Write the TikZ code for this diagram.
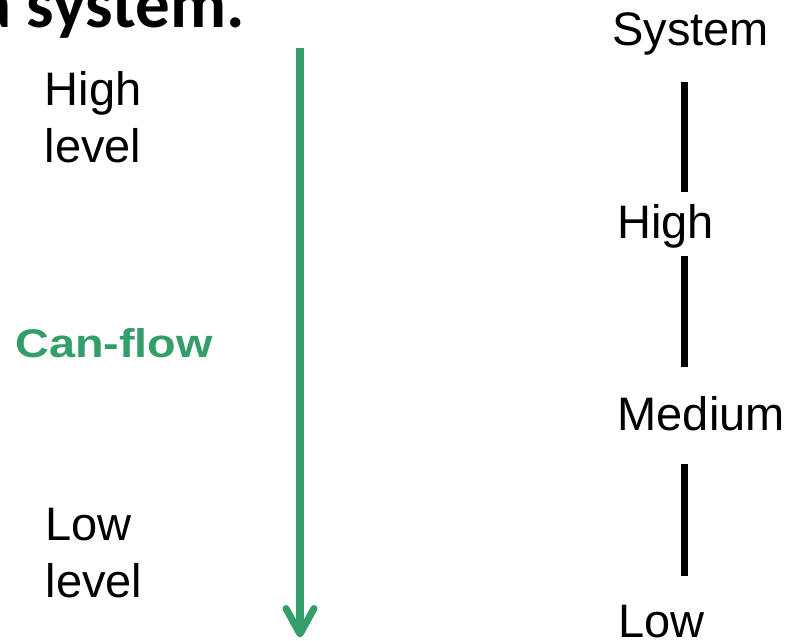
\documentclass[tikz,border=0pt]{standalone}
\usepackage{fontspec}
\setmainfont{Liberation Sans}
\newfontfamily\headfont{Carlito}
\usetikzlibrary{calc}
\definecolor{flowgreen}{RGB}{51,158,106}
\begin{document}
\begin{tikzpicture}[x=1pt,y=-1pt,
  label/.style={inner sep=0pt,anchor=base west,align=left,
    font=\fontsize{47}{57}\selectfont},
  flowlabel/.style={inner sep=0pt,anchor=base west,text=flowgreen,
    font=\fontsize{40}{48}\selectfont\bfseries,xscale=1.17},
  heading/.style={inner sep=0pt,anchor=base west,
    font=\headfont\fontsize{69}{74}\selectfont\bfseries},
  flow/.style={draw=flowgreen,line width=7.3pt},
  flowhead/.style={draw=flowgreen,line width=7pt,line cap=round,line join=round},
  level/.style={draw=black,line width=7pt}]
\useasboundingbox (0,0) rectangle (789,640);
\clip (0,0) rectangle (789,640);

% heading, partly cut off by the page edge
\node[heading] (head) at (-23,27) {a system.};

% left column (base anchor sits on the last line)
\node[label] (hiL) at (44.5,162) {High\\level};
\node[label] (loL) at (45.5,597) {Low\\level};
\node[flowlabel] (can) at (15,357) {Can-flow};

% flow arrow
\coordinate (flowtop) at (300,48);
\coordinate (flowend) at (300,634);
\draw[flow] (flowtop) -- (flowend);
\draw[flowhead] ($(flowend)+(-14,-25.5)$) -- (flowend) -- ($(flowend)+(14,-25.5)$);

% right column: security levels
\node[label] (sys) at (612,45) {System};
\node[label] (hi) at (617,238) {High};
\node[label] (med) at (617.5,430) {Medium};
\node[label] (lo) at (618.5,637) {Low};

\coordinate (a1) at (684,82);  \coordinate (a2) at (684,192);
\coordinate (b1) at (684,256); \coordinate (b2) at (684,367);
\coordinate (c1) at (684,464); \coordinate (c2) at (684,576);
\draw[level] (a1) -- (a2);
\draw[level] (b1) -- (b2);
\draw[level] (c1) -- (c2);
\end{tikzpicture}
\end{document}
